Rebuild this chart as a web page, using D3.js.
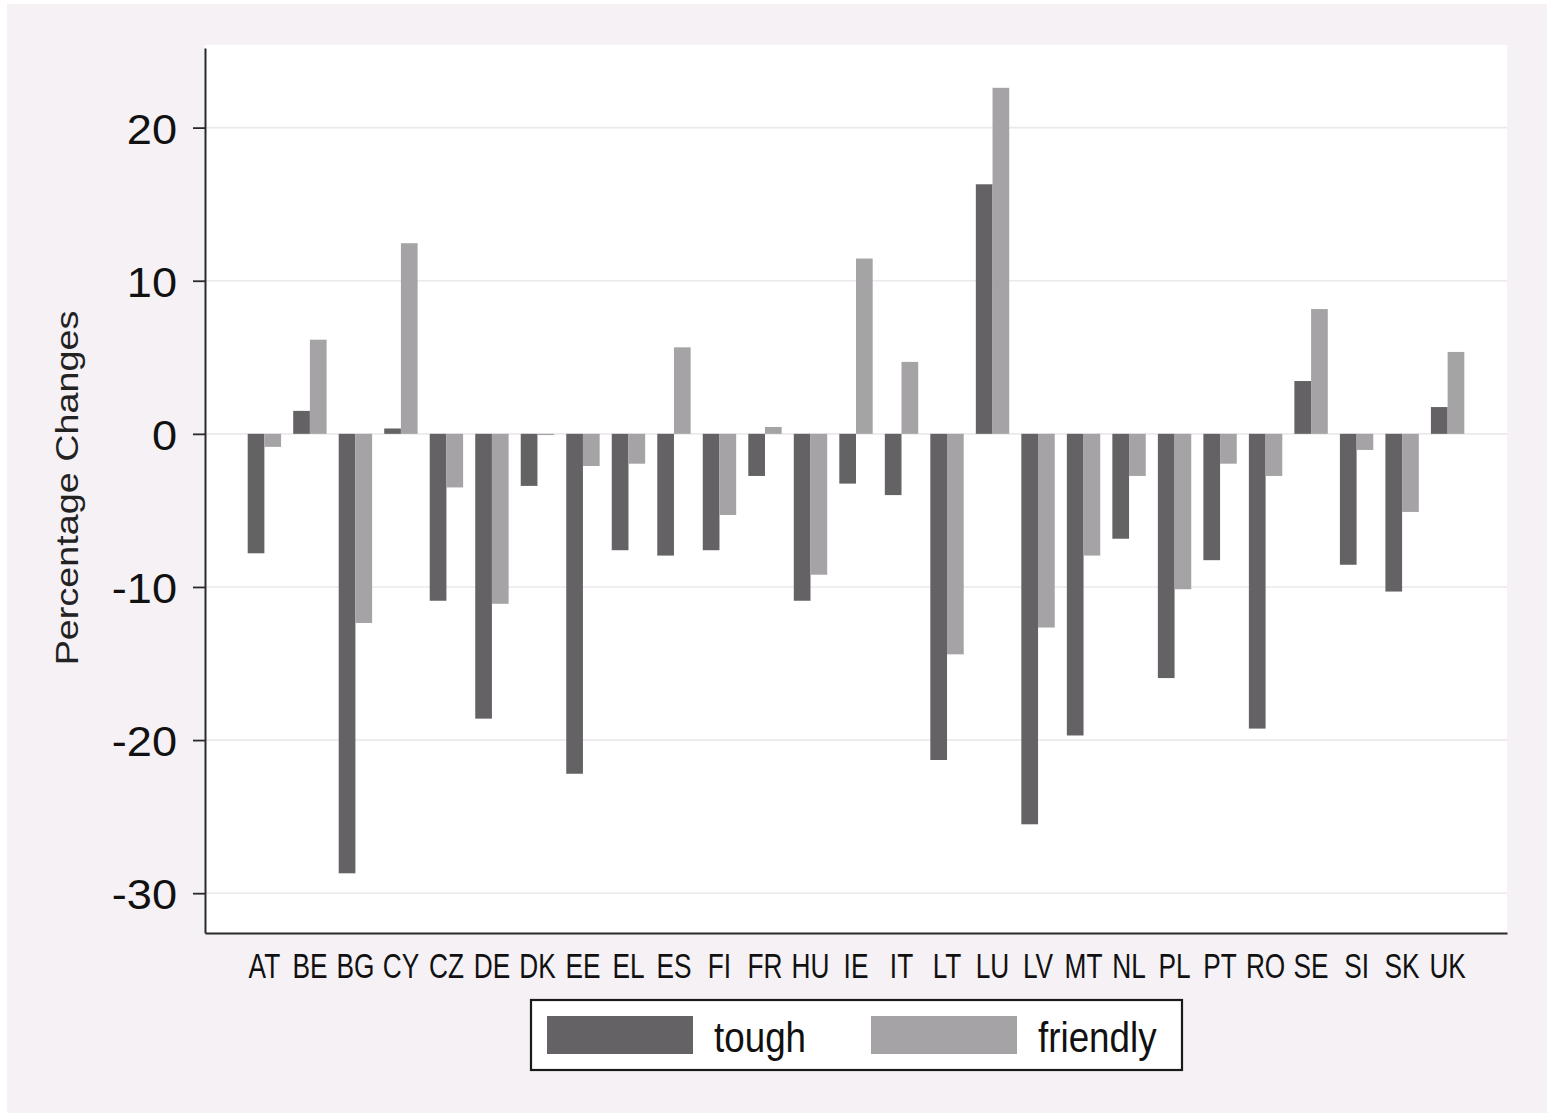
<!DOCTYPE html>
<html>
<head>
<meta charset="utf-8">
<script src="https://cdn.jsdelivr.net/npm/d3@7"></script>
<style>
  html, body { margin: 0; padding: 0; background: #ffffff; }
  svg { display: block; font-family: "Liberation Sans", Arial, sans-serif; }
</style>
</head>
<body>
<svg id="chart" width="1554" height="1116"></svg>
<script>
const categories = ["AT","BE","BG","CY","CZ","DE","DK","EE","EL","ES","FI","FR","HU","IE","IT","LT","LU","LV","MT","NL","PL","PT","RO","SE","SI","SK","UK"];
const tough    = [-7.8, 1.5, -28.7, 0.35, -10.9, -18.6, -3.4, -22.2, -7.6, -7.95, -7.6, -2.75, -10.9, -3.25, -4.0, -21.3, 16.3, -25.5, -19.7, -6.85, -15.95, -8.25, -19.25, 3.45, -8.55, -10.3, 1.75];
const friendly = [-0.85, 6.15, -12.35, 12.45, -3.5, -11.1, -0.08, -2.1, -1.95, 5.65, -5.3, 0.45, -9.2, 11.45, 4.7, -14.4, 22.6, -12.65, -7.95, -2.75, -10.15, -1.95, -2.75, 8.15, -1.05, -5.1, 5.35];
const seriesNames = ["tough", "friendly"];
const yTicks = [-30, -20, -10, 0, 10, 20];
const yTitle = "Percentage Changes";

const colors = { tough: "#646265", friendly: "#a5a3a6" };
const svg = d3.select("#chart");

// outer background
svg.append("rect").attr("x", 7).attr("y", 4).attr("width", 1540).attr("height", 1109).attr("fill", "#f5f1f5");

const plot = { left: 205, right: 1507, top: 45, bottom: 933 };
svg.append("rect").attr("x", plot.left).attr("y", plot.top)
  .attr("width", plot.right - plot.left).attr("height", plot.bottom - plot.top).attr("fill", "#ffffff");

const y = d3.scaleLinear().domain([-32.6, 25.2]).range([933, 48]);
const x0 = d3.scaleBand().domain(categories).range([plot.left, plot.right])
  .paddingInner(0.266).paddingOuter(0.938);
const x1 = d3.scaleBand().domain(seriesNames).range([0, x0.bandwidth()]).padding(0);

// gridlines
svg.append("g").selectAll("line").data(yTicks).join("line")
  .attr("x1", plot.left).attr("x2", plot.right)
  .attr("y1", d => y(d)).attr("y2", d => y(d))
  .attr("stroke", "#ece8ec").attr("stroke-width", 1.6);

// bars
const rows = categories.map((c, i) => ({ cat: c, tough: tough[i], friendly: friendly[i] }));
const groups = svg.append("g").selectAll("g").data(rows).join("g")
  .attr("transform", d => `translate(${x0(d.cat)},0)`);
groups.selectAll("rect").data(d => seriesNames.map(s => ({ s, v: d[s] }))).join("rect")
  .attr("x", d => x1(d.s))
  .attr("width", x1.bandwidth())
  .attr("y", d => y(Math.max(0, d.v)))
  .attr("height", d => Math.abs(y(d.v) - y(0)))
  .attr("fill", d => colors[d.s]);

// y axis
const yAxis = svg.append("g").attr("transform", `translate(${plot.left},0)`)
  .call(d3.axisLeft(y).tickValues(yTicks).tickSize(12).tickSizeOuter(0).tickPadding(16).tickFormat(d3.format("d")));
yAxis.select(".domain").attr("stroke", "#2a2a2a").attr("stroke-width", 2);
yAxis.selectAll(".tick line").attr("stroke", "#2a2a2a").attr("stroke-width", 1.8);
yAxis.selectAll(".tick text").attr("font-size", 43).attr("fill", "#111").attr("dy", "0.36em")
  .attr("transform", "translate(-28,0) scale(1.05,1) translate(28,0)")
  .text(d => d < 0 ? "-" + Math.abs(d) : d);

// x axis
const xAxis = svg.append("g").attr("transform", `translate(0,${plot.bottom})`)
  .call(d3.axisBottom(x0).tickSize(0).tickSizeOuter(0));
xAxis.select(".domain").attr("stroke", "#2a2a2a").attr("stroke-width", 2.2);
xAxis.selectAll(".tick text").attr("font-size", 35).attr("fill", "#111")
  .attr("y", 45).attr("dy", 0).attr("transform", "scale(0.75,1)");

// y title
svg.append("text").attr("transform", "translate(78,488) rotate(-90) scale(1.18,1)")
  .attr("text-anchor", "middle").attr("font-size", 32).attr("fill", "#222").text(yTitle);

// legend
const lg = svg.append("g");
lg.append("rect").attr("x", 531).attr("y", 1000).attr("width", 651).attr("height", 70)
  .attr("fill", "#ffffff").attr("stroke", "#1a1a1a").attr("stroke-width", 2.2);
const legendItems = [
  { s: "tough", sx: 547, tx: 714 },
  { s: "friendly", sx: 871, tx: 1038 }
];
legendItems.forEach(it => {
  lg.append("rect").attr("x", it.sx).attr("y", 1016).attr("width", 146).attr("height", 38).attr("fill", colors[it.s]);
  lg.append("text").attr("transform", `translate(${it.tx},1052) scale(0.876,1)`)
    .attr("font-size", 42).attr("fill", "#111").text(it.s);
});
</script>
</body>
</html>
